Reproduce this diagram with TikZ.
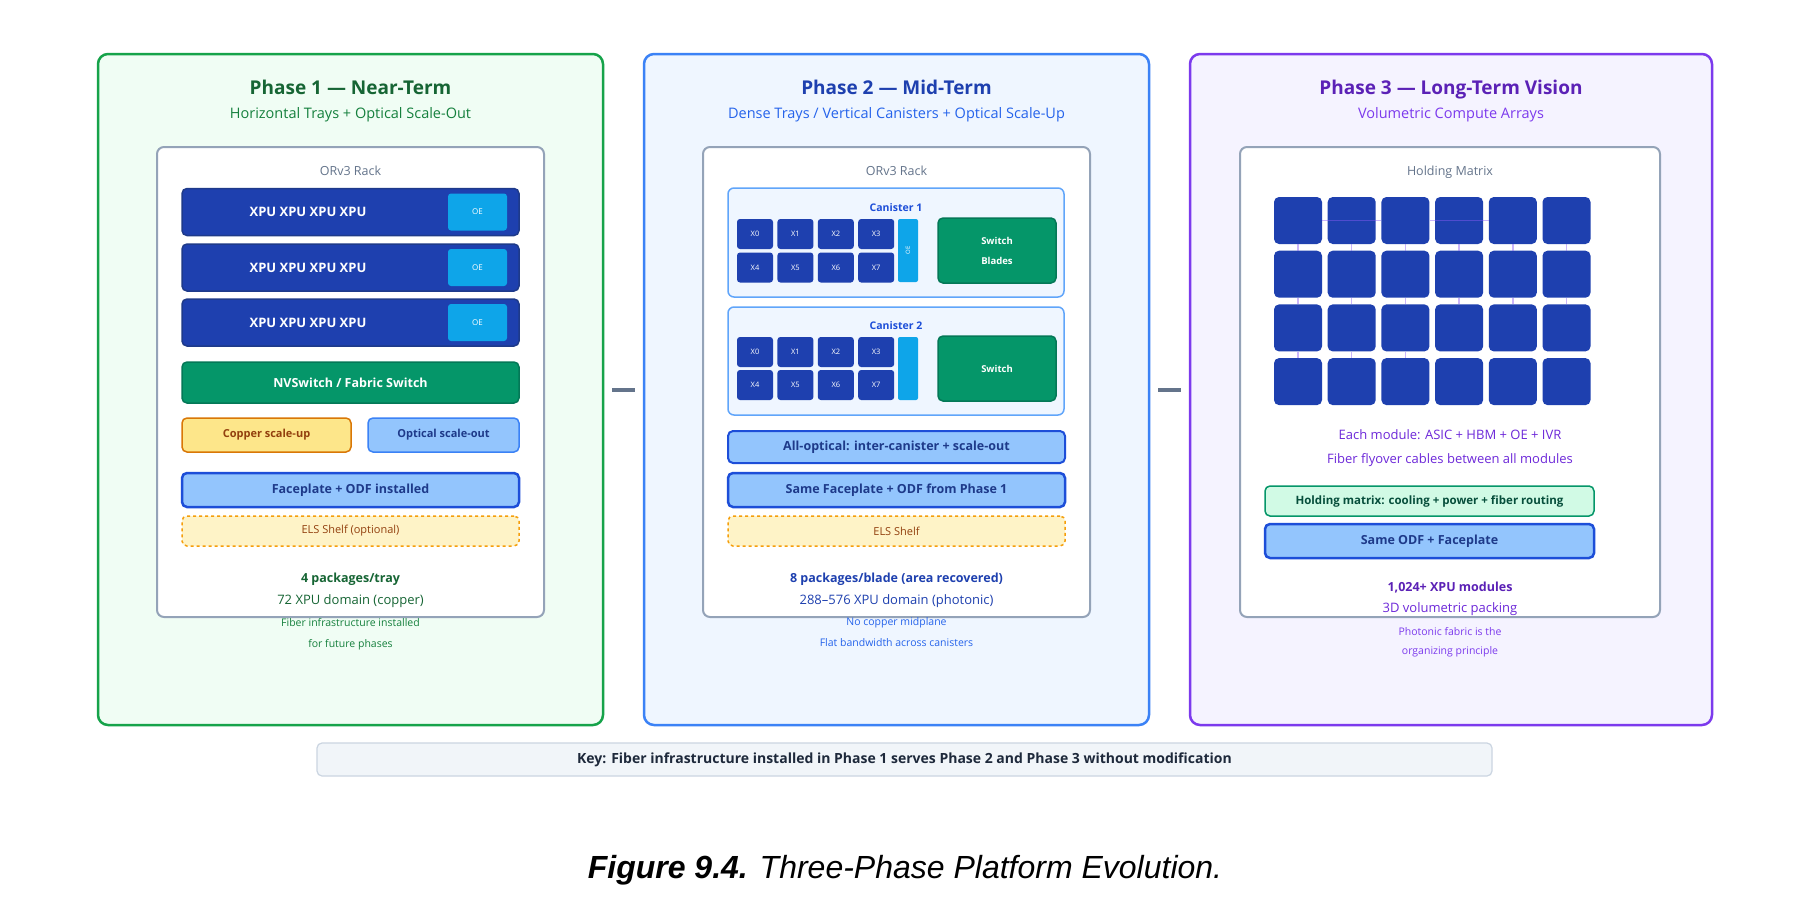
\documentclass[tikz,border=0pt]{standalone}
\usepackage{fontspec}
\setmainfont{Open Sans}
\newfontfamily\capfont{Liberation Sans}
\usetikzlibrary{positioning}

% colours
\definecolor{greenline}{HTML}{16A34A}
\definecolor{greenfill}{HTML}{F0FDF4}
\definecolor{greendark}{HTML}{166534}
\definecolor{greentext}{HTML}{15803D}
\definecolor{blueline}{HTML}{3B82F6}
\definecolor{bluefill}{HTML}{EFF6FF}
\definecolor{bluedark}{HTML}{1E40AF}
\definecolor{bluetext}{HTML}{2563EB}
\definecolor{violetline}{HTML}{7C3AED}
\definecolor{violetfill}{HTML}{F5F3FF}
\definecolor{violetdark}{HTML}{5B21B6}
\definecolor{violettext}{HTML}{6D28D9}
\definecolor{rackline}{HTML}{94A3B8}
\definecolor{racktext}{HTML}{64748B}
\definecolor{trayblue}{HTML}{1E40AF}
\definecolor{traydark}{HTML}{1E3A8A}
\definecolor{oeblue}{HTML}{0EA5E9}
\definecolor{swgreen}{HTML}{059669}
\definecolor{swdark}{HTML}{047857}
\definecolor{copperfill}{HTML}{FDE68A}
\definecolor{copperline}{HTML}{D97706}
\definecolor{coppertext}{HTML}{92400E}
\definecolor{opticfill}{HTML}{93C5FD}
\definecolor{faceline}{HTML}{1D4ED8}
\definecolor{elsfill}{HTML}{FEF3C7}
\definecolor{elsline}{HTML}{F59E0B}
\definecolor{canline}{HTML}{60A5FA}
\definecolor{fiberpurple}{HTML}{8B5CF6}
\definecolor{holdfill}{HTML}{D1FAE5}
\definecolor{holdtext}{HTML}{064E3B}
\definecolor{keyfill}{HTML}{F1F5F9}
\definecolor{keyline}{HTML}{CBD5E1}
\definecolor{keytext}{HTML}{1E293B}
\definecolor{linkgray}{HTML}{64748B}

\newcommand{\fsz}[1]{\fontsize{#1}{#1}\selectfont}

\tikzset{
  panel/.style={draw, rounded corners=10, line width=2.5, minimum height=671},
  rack/.style={draw=rackline, fill=white, rounded corners=7, line width=2, minimum height=470},
  txt/.style={inner sep=0, text depth=0},
  ttl/.style={inner sep=0, text depth=0, font=\fsz{19}\bfseries},
  sub/.style={inner sep=0, text depth=0, font=\fsz{14.5}},
  racklbl/.style={inner sep=0, text depth=0, text=racktext, font=\fsz{12.5}},
  tray/.style={fill=trayblue, draw=traydark, line width=1.5, rounded corners=5, minimum width=337, minimum height=47},
  oe/.style={fill=oeblue, rounded corners=3, minimum width=59, minimum height=37, inner sep=0, text=white, font=\fsz{8}},
  xputxt/.style={inner sep=0, text=white, font=\fsz{13}\bfseries},
  switchbar/.style={fill=swgreen, draw=swdark, line width=1.5, rounded corners=5, minimum width=337, minimum height=41, text=white, font=\fsz{12.5}\bfseries},
  copper/.style={fill=copperfill, draw=copperline, line width=1.5, rounded corners=5, minimum width=169, minimum height=34, text=coppertext, font=\fsz{11}\bfseries},
  optic/.style={fill=opticfill, draw=blueline, line width=1.5, rounded corners=5, minimum height=34, text=traydark, font=\fsz{11}\bfseries},
  faceplate/.style={fill=opticfill, draw=faceline, line width=2.5, rounded corners=5, minimum height=34, text=traydark, font=\fsz{12.5}\bfseries},
  els/.style={fill=elsfill, draw=elsline, dashed, line width=1.5, rounded corners=5, minimum width=337, minimum height=30, text=coppertext, font=\fsz{11}},
  canister/.style={fill=bluefill, draw=canline, line width=1.5, rounded corners=6, minimum width=336},
  cell/.style={fill=trayblue, rounded corners=3, minimum width=36, minimum height=30, inner sep=0, text=white, font=\fsz{7.5}},
  strip/.style={fill=oeblue, rounded corners=2, minimum width=20, minimum height=63, inner sep=0},
  blade/.style={fill=swgreen, draw=swdark, line width=1.5, rounded corners=5, minimum width=118, minimum height=65, inner sep=0, text=white, align=center, font=\fontsize{9.5}{20}\selectfont\bfseries},
  module/.style={fill=trayblue, rounded corners=5, minimum width=48, minimum height=47, inner sep=0},
  fiber/.style={draw=fiberpurple, opacity=0.45, line width=1.5},
  holdbox/.style={fill=holdfill, draw=swgreen, line width=1.5, rounded corners=5, minimum width=329, minimum height=30, text=holdtext, font=\fsz{11.5}\bfseries},
  keybox/.style={fill=keyfill, draw=keyline, line width=1.2, rounded corners=5, minimum width=1175, minimum height=33, text=keytext, font=\fsz{14}\bfseries},
  link/.style={draw=linkgray, line width=4, shorten <=8, shorten >=8},
}

\begin{document}
\begin{tikzpicture}[x=1pt,y=-1pt]
  \useasboundingbox[fill=white] (0,0) rectangle (1800,910);

  % the three phase panels
  \node[panel, draw=greenline, fill=greenfill, minimum width=505] (p1) at (350.5,389.5) {};
  \node[panel, draw=blueline, fill=bluefill, minimum width=505] (p2) at (896.5,389.5) {};
  \node[panel, draw=violetline, fill=violetfill, minimum width=522] (p3) at (1451,389.5) {};
  \draw[link] (p1.east) -- (p2.west);
  \draw[link] (p2.east) -- (p3.west);

  % Phase 1
  \node[ttl, text=greendark] (t1) at (350.5,87) {Phase 1 — Near-Term};
  \node[sub, text=greentext] (s1) at (350.5,113) {Horizontal Trays + Optical Scale-Out};
  \node[rack, minimum width=387] (r1) at (350.5,382) {};
  \node[racklbl] (rl1) at (350.5,171) {ORv3 Rack};
  \foreach \y [count=\i] in {212,267.5,322.5}{
    \node[tray] (tray\i) at (350.5,\y) {};
    \node[xputxt] (xpu\i) at (308,\y) {XPU XPU XPU XPU};
    \node[oe] (oe\i) at (477.5,\y) {OE};
  }
  \node[switchbar] (nvs) at (350.5,382.5) {NVSwitch / Fabric Switch};
  \node[copper] (cu) at (266.5,435) {Copper scale-up};
  \node[optic, minimum width=151] (so) at (443.5,435) {Optical scale-out};
  \node[faceplate, minimum width=337] (fp1) at (350.5,490) {Faceplate + ODF installed};
  \node[els] (els1) at (350.5,531) {ELS Shelf (optional)};
  \node[txt, text=greendark, font=\fsz{12.5}\bfseries] (n1a) at (350.5,578) {4 packages/tray};
  \node[txt, text=greendark, font=\fsz{13}] (n1b) at (350.5,600) {72 XPU domain (copper)};
  \node[txt, text=greentext, font=\fsz{10.5}] (n1c) at (350.5,622) {Fiber infrastructure installed};
  \node[txt, text=greentext, font=\fsz{10.5}] (n1d) at (350.5,643) {for future phases};

  % Phase 2
  \node[ttl, text=bluedark] (t2) at (896.5,87) {Phase 2 — Mid-Term};
  \node[sub, text=bluetext] (s2) at (896.5,113) {Dense Trays / Vertical Canisters + Optical Scale-Up};
  \node[rack, minimum width=387] (r2) at (896.5,382) {};
  \node[racklbl] (rl2) at (896.5,171) {ORv3 Rack};
  \node[canister, minimum height=109] (can1) at (896,242.5) {};
  \node[canister, minimum height=108] (can2) at (896,361) {};
  \node[txt, text=faceline, font=\fsz{10.5}\bfseries] (cl1) at (896,208) {Canister 1};
  \node[txt, text=faceline, font=\fsz{10.5}\bfseries] (cl2) at (896,326) {Canister 2};
  \foreach \n in {0,...,7}{
    \pgfmathtruncatemacro{\col}{mod(\n,4)}
    \pgfmathtruncatemacro{\row}{div(\n,4)}
    \node[cell] (ca\n) at ({755+40.4*\col},{234+33.5*\row}) {X\n};
    \node[cell] (cb\n) at ({755+40.4*\col},{352+33*\row}) {X\n};
  }
  \node[strip] (oa) at (908,250.5) {};
  \node[txt, text=white, font=\fsz{6}, rotate=90] (oat) at (908,250.5) {OE};
  \node[strip] (ob) at (908,368.5) {};
  \node[blade] (swa) at (997,250.5) {Switch\\Blades};
  \node[blade] (swb) at (997,368.5) {Switch};
  \node[faceplate, line width=2, minimum width=337, minimum height=32] (ao) at (896.5,447) {All-optical: inter-canister + scale-out};
  \node[faceplate, minimum width=337] (fp2) at (896.5,490) {Same Faceplate + ODF from Phase 1};
  \node[els] (els2) at (896.5,531) {ELS Shelf};
  \node[txt, text=bluedark, font=\fsz{12.5}\bfseries] (n2a) at (896.5,578) {8 packages/blade (area recovered)};
  \node[txt, text=bluedark, font=\fsz{13}] (n2b) at (896.5,600) {288–576 XPU domain (photonic)};
  \node[txt, text=bluetext, font=\fsz{10.5}] (n2c) at (896.5,622) {No copper midplane};
  \node[txt, text=bluetext, font=\fsz{10.5}] (n2d) at (896.5,643) {Flat bandwidth across canisters};

  % Phase 3
  \node[ttl, text=violetdark] (t3) at (1451,87) {Phase 3 — Long-Term Vision};
  \node[sub, text=violetline] (s3) at (1451,113) {Volumetric Compute Arrays};
  \node[rack, minimum width=420] (r3) at (1450,382) {};
  \node[racklbl] (rl3) at (1450,171) {Holding Matrix};
  \foreach \r in {0,...,3}{
    \foreach \c in {0,...,5}{
      \node[module] (m\r\c) at ({1298+53.7*\c},{220.5+53.7*\r}) {};
    }
  }
  % fiber flyovers
  \foreach \c in {0,...,5}{
    \draw[fiber] (m0\c.south) -- (m1\c.north);
    \draw[fiber] (m1\c.south) -- (m2\c.north);
  }
  \foreach \c in {0,1,2}{
    \draw[fiber] (m2\c.south) -- (m3\c.north);
  }
  \draw[fiber] (m00.east) -- (m02.west);
  \draw[fiber] (m02.east) -- (m04.west);
  \node[txt, text=violettext, font=\fsz{13}] (n3a) at (1450,435) {Each module: ASIC + HBM + OE + IVR};
  \node[txt, text=violettext, font=\fsz{13}] (n3b) at (1450,459) {Fiber flyover cables between all modules};
  \node[holdbox] (hold) at (1429.5,501) {Holding matrix: cooling + power + fiber routing};
  \node[faceplate, minimum width=329] (fp3) at (1429.5,541) {Same ODF + Faceplate};
  \node[txt, text=violetdark, font=\fsz{12.5}\bfseries] (n3c) at (1450,587) {1,024+ XPU modules};
  \node[txt, text=violettext, font=\fsz{13}] (n3d) at (1450,608) {3D volumetric packing};
  \node[txt, text=violetline, font=\fsz{10.5}] (n3e) at (1450,631) {Photonic fabric is the};
  \node[txt, text=violetline, font=\fsz{10.5}] (n3f) at (1450,651) {organizing principle};

  % key and caption
  \node[keybox] (key) at (904.5,759.5) {Key: Fiber infrastructure installed in Phase 1 serves Phase 2 and Phase 3 without modification};
  \node[txt, font=\capfont\fsz{32}] (cap) at (905,867) {\textbf{\textit{Figure 9.4.}} \textit{Three-Phase Platform Evolution.}};
\end{tikzpicture}
\end{document}
